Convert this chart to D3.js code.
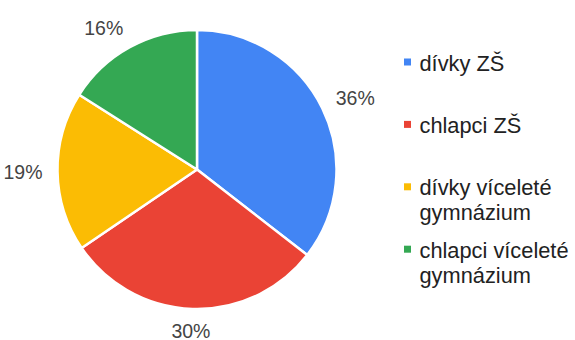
<!DOCTYPE html>
<html>
<head>
<meta charset="utf-8">
<script src="https://cdn.jsdelivr.net/npm/d3@7"></script>
<style>
  html, body { margin: 0; padding: 0; background: #fff; }
  svg { display: block; }
</style>
</head>
<body>
<svg id="chart" width="575" height="340"></svg>
<script>
// Shares of respondents by group
const categories = ["dívky ZŠ", "chlapci ZŠ", "dívky víceleté gymnázium", "chlapci víceleté gymnázium"];
const values = [35.5, 30, 18.5, 16];
const legendLines = [["dívky ZŠ"], ["chlapci ZŠ"], ["dívky víceleté", "gymnázium"], ["chlapci víceleté", "gymnázium"]];
const colors = ["#4285f4", "#ea4335", "#fbbc04", "#34a853"];

const svg = d3.select("#chart");
const font = "'Liberation Sans', Arial, sans-serif";

const cx = 197, cy = 169.5, radius = 139.5;
const total = d3.sum(values);

const pie = d3.pie().sort(null).value(d => d)(values);
const arc = d3.arc().innerRadius(0).outerRadius(radius);
const color = d3.scaleOrdinal().domain(categories).range(colors);

const g = svg.append("g").attr("transform", `translate(${cx},${cy})`);

g.selectAll("path.slice")
  .data(pie)
  .join("path")
  .attr("class", "slice")
  .attr("d", arc)
  .attr("fill", (d, i) => color(categories[i]))
  .attr("stroke", "#fff")
  .attr("stroke-width", 2.5)
  .attr("stroke-linejoin", "round");

// Percentage labels: the label box touches a point just outside the rim
const labelSize = 19.5;
const labelDist = 154.5;
const clamp = v => Math.max(-1, Math.min(1, v));
g.selectAll("text.pct")
  .data(pie)
  .join("text")
  .attr("class", "pct")
  .attr("font-family", font)
  .attr("font-size", labelSize)
  .attr("fill", "#444")
  .attr("text-anchor", "middle")
  .text(d => Math.round(d.data / total * 100) + "%")
  .each(function (d) {
    const a = (d.startAngle + d.endAngle) / 2;
    const s = Math.sin(a), c = Math.cos(a);
    const hw = this.getBBox().width / 2, hh = 7;
    const x = labelDist * s + hw * clamp(2 * s);
    const y = -labelDist * c - hh * c;
    d3.select(this).attr("x", x).attr("y", y + hh);
  });

// Legend
const legendSize = 21.8;
const lx = 404, ly0 = 70.5, lstep = 62.4, lineH = 25;
const legend = svg.append("g");
const items = legend.selectAll("g.item")
  .data(categories)
  .join("g")
  .attr("class", "item")
  .attr("transform", (d, i) => `translate(${lx},${ly0 + i * lstep})`);

items.append("rect")
  .attr("x", 0)
  .attr("y", -12)
  .attr("width", 7)
  .attr("height", 7)
  .attr("fill", d => color(d));

items.append("text")
  .attr("font-family", font)
  .attr("font-size", legendSize)
  .attr("fill", "#222")
  .each(function (d, i) {
    const t = d3.select(this);
    legendLines[i].forEach((line, j) => {
      t.append("tspan").attr("x", 15.5).attr("y", j * lineH).text(line);
    });
  });
</script>
</body>
</html>
